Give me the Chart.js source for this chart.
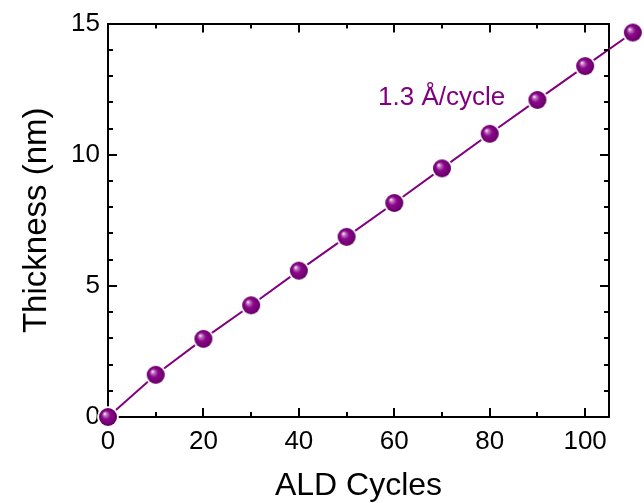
<!DOCTYPE html>
<html><head><meta charset="utf-8">
<script src="https://cdn.jsdelivr.net/npm/chart.js@4/dist/chart.umd.min.js"></script>
<style>html,body{margin:0;padding:0;background:#fff}</style>
</head><body>
<canvas id="c" width="644" height="503" style="width:644px;height:503px;display:block"></canvas>
<script>
const cycles = [0,10,20,30,40,50,60,70,80,90,100,110];
const thickness = [0,1.61,2.98,4.26,5.58,6.87,8.16,9.48,10.8,12.09,13.38,14.66];
const xMajorTicks = [0,20,40,60,80,100];
const xMinorTicks = [10,30,50,70,90];
const yMajorTicks = [0,5,10,15];
const yMinorTicks = [1,2,3,4,6,7,8,9,11,12,13,14];
const xRange = [0,105];
const yRange = [0,15];
const xTitle = 'ALD Cycles';
const yTitle = 'Thickness (nm)';
const annotationText = '1.3 Å/cycle';
const annotationAt = [56.6, 11.9];

const PURPLE = '#800080';
const FONT = "'Liberation Sans', Arial, Helvetica, sans-serif";

function makeSphere(r){
  const pad = 3, s = 2*(r+pad);
  const c = document.createElement('canvas');
  c.width = s; c.height = s;
  const g = c.getContext('2d');
  const cx = s/2, cy = s/2;
  g.beginPath(); g.arc(cx,cy,r+1.6,0,2*Math.PI); g.fillStyle='#fff'; g.fill();
  const grad = g.createRadialGradient(cx-r*0.38, cy-r*0.38, r*0.04, cx, cy, r);
  grad.addColorStop(0,'#f6e6f6');
  grad.addColorStop(0.18,'#c070c0');
  grad.addColorStop(0.45,'#8a0a8a');
  grad.addColorStop(0.8,'#780078');
  grad.addColorStop(1,'#5a005a');
  g.beginPath(); g.arc(cx,cy,r,0,2*Math.PI); g.fillStyle=grad; g.fill();
  return c;
}
const sphere = makeSphere(9);

const tickMarks = {
  id:'tickMarks',
  afterDraw(chart){
    const {ctx, chartArea:a, scales:{x,y}} = chart;
    ctx.save();
    ctx.strokeStyle='#000'; ctx.lineWidth=2; ctx.lineCap='butt';
    const seg=(x1,y1,x2,y2)=>{ctx.beginPath();ctx.moveTo(x1,y1);ctx.lineTo(x2,y2);ctx.stroke();};
    const doX=(vals,len)=>vals.forEach(v=>{const p=Math.round(x.getPixelForValue(v));
      seg(p,a.bottom,p,a.bottom-len); seg(p,a.top,p,a.top+len);});
    const doY=(vals,len)=>vals.forEach(v=>{const p=Math.round(y.getPixelForValue(v));
      seg(a.left,p,a.left+len,p); seg(a.right,p,a.right-len,p);});
    doX(xMajorTicks,9); doX(xMinorTicks,5);
    doY(yMajorTicks,9); doY(yMinorTicks,5);
    ctx.restore();
  }
};
const annot = {
  id:'annot',
  afterDatasetsDraw(chart){
    const {ctx, scales:{x,y}} = chart;
    ctx.save();
    ctx.font = "26px " + FONT;
    ctx.fillStyle = PURPLE;
    ctx.textAlign='left'; ctx.textBaseline='alphabetic';
    ctx.fillText(annotationText, x.getPixelForValue(annotationAt[0]), y.getPixelForValue(annotationAt[1]));
    ctx.restore();
  }
};
// redraw points near/outside the frame edges (origin point over the axes, last point beyond the right edge)
const pointsOnTop = {
  id:'pointsOnTop',
  afterDraw(chart){
    const meta = chart.getDatasetMeta(0);
    const ctx = chart.ctx, a = chart.chartArea;
    const full = {left:0, top:0, right:chart.width, bottom:chart.height};
    ctx.save();
    meta.data.forEach(el=>{
      if ((el.x < a.left+12 && el.y > a.bottom-12) || el.x > a.right) el.draw(ctx, full);
    });
    ctx.restore();
  }
};

const setTicks = arr => scale => { scale.ticks = arr.map(v=>({value:v})); };

new Chart(document.getElementById('c'), {
  type:'scatter',
  data:{ datasets:[{
    data: cycles.map((c,i)=>({x:c, y:thickness[i]})),
    showLine:true,
    borderColor:PURPLE, borderWidth:2, tension:0,
    pointStyle:sphere, pointRadius:9, pointHoverRadius:9,
    clip:false
  }]},
  options:{
    responsive:false, animation:false, devicePixelRatio:1,
    events:[],
    layout:{padding:{left:0, right:35, top:21, bottom:0}},
    plugins:{legend:{display:false}, tooltip:{enabled:false}},
    scales:{
      x:{type:'linear', position:'bottom', min:xRange[0], max:xRange[1],
        afterBuildTicks:setTicks(xMajorTicks),
        afterFit(s){ s.height = 86; },
        grid:{display:false, drawTicks:false},
        border:{display:true, color:'#000', width:2},
        ticks:{color:'#000', padding:9, font:{family:FONT, size:26}, maxRotation:0, autoSkip:false},
        title:{display:true, text:xTitle, color:'#000', font:{family:FONT, size:32, lineHeight:1}, padding:{top:0,bottom:1}}
      },
      y:{type:'linear', position:'left', min:yRange[0], max:yRange[1],
        afterBuildTicks:setTicks(yMajorTicks),
        afterFit(s){ s.width = 108; },
        grid:{display:false, drawTicks:false},
        border:{display:true, color:'#000', width:2},
        ticks:{color:'#000', padding:8, font:{family:FONT, size:26}, autoSkip:false},
        title:{display:true, text:yTitle, color:'#000', font:{family:FONT, size:33, lineHeight:1}, padding:{top:20,bottom:0}}
      },
      x2:{type:'linear', position:'top', min:xRange[0], max:xRange[1],
        grid:{display:false, drawTicks:false},
        border:{display:true, color:'#000', width:2},
        ticks:{display:false}, afterFit(s){ s.height = 0; }
      },
      y2:{type:'linear', position:'right', min:yRange[0], max:yRange[1],
        grid:{display:false, drawTicks:false},
        border:{display:true, color:'#000', width:2},
        ticks:{display:false}, afterFit(s){ s.width = 0; }
      }
    }
  },
  plugins:[tickMarks, annot, pointsOnTop]
});
</script>
</body></html>
